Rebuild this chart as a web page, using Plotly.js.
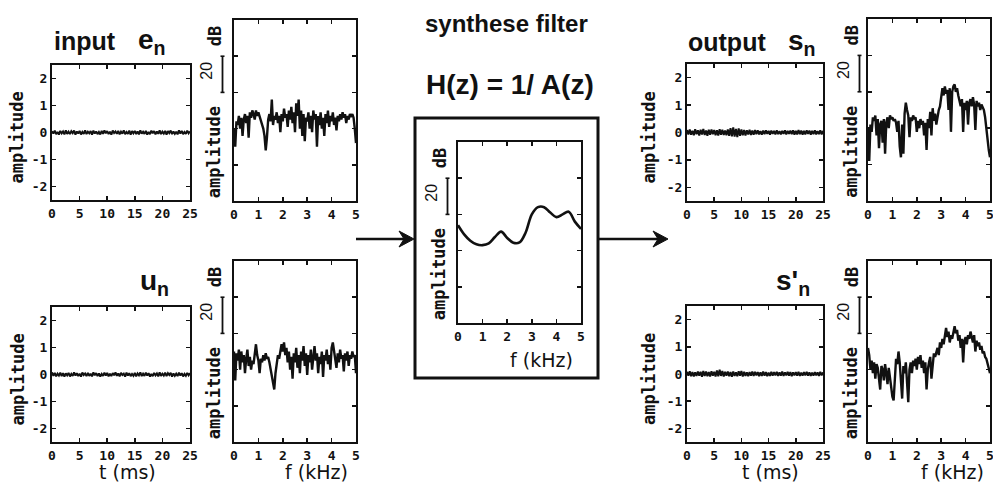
<!DOCTYPE html>
<html>
<head>
<meta charset="utf-8">
<script src="https://cdn.plot.ly/plotly-3.0.1.min.js"></script>
<style>
  html, body { margin: 0; padding: 0; background: #fff; }
  #chart { width: 993px; height: 490px; }
</style>
</head>
<body>
<div id="chart"></div>
<script>
// ---- time signals (amplitude, 0..25 ms) ----
const enTime = [0.05,-0.04,0.07,-0.06,0.02,-0.08,0.06,-0.03,0.04,-0.07,0.08,-0.05,0.03,-0.06,0.05,-0.02,0.07,-0.08,0.04,-0.04,0.06,-0.07,0.02,-0.05,0.08,-0.06,0.03,-0.03,0.05,-0.08,0.07,-0.04,0.04,-0.06,0.02,-0.07,0.06,-0.05,0.08,-0.03,0.05,-0.06,0.03,-0.08,0.07,-0.02,0.04,-0.05,0.06,-0.07,0.03,-0.04,0.08,-0.06,0.02,-0.05,0.07,-0.08,0.05,-0.03,0.06,-0.06,0.04,-0.07,0.08,-0.04,0.03,-0.05,0.06,-0.08,0.02,-0.06,0.07,-0.03,0.05,-0.07,0.04,-0.05,0.08,-0.06,0.03,-0.04,0.06,-0.08,0.05,-0.02,0.07,-0.06,0.04,-0.05,0.03,-0.07,0.08,-0.04,0.06,-0.06,0.02,-0.05,0.07,-0.03,0.04];
const unTime = [0.08,-0.05,0.06,-0.07,0.03,-0.04,0.07,-0.06,0.05,-0.08,0.04,-0.03,0.06,-0.07,0.02,-0.05,0.08,-0.04,0.05,-0.06,0.03,-0.08,0.07,-0.02,0.04,-0.06,0.06,-0.05,0.03,-0.07,0.08,-0.03,0.05,-0.06,0.04,-0.08,0.02,-0.05,0.07,-0.04,0.06,-0.07,0.03,-0.06,0.05,-0.03,0.08,-0.05,0.04,-0.07,0.06,-0.02,0.03,-0.08,0.07,-0.04,0.05,-0.06,0.02,-0.05,0.06,-0.07,0.04,-0.03,0.08,-0.06,0.03,-0.05,0.07,-0.04,0.05,-0.08,0.02,-0.06,0.06,-0.03,0.04,-0.07,0.08,-0.05,0.03,-0.04,0.07,-0.06,0.05,-0.02,0.06,-0.08,0.04,-0.05,0.03,-0.06,0.07,-0.04,0.05,-0.07,0.02,-0.05,0.06,-0.03,0.05];
const snTime = [0.09,-0.07,0.11,-0.08,0.06,-0.10,0.12,-0.06,0.08,-0.11,0.10,-0.07,0.13,-0.09,0.07,-0.12,0.10,-0.08,0.11,-0.06,0.09,-0.10,0.08,-0.11,0.12,-0.08,0.10,-0.09,0.07,-0.10,0.11,-0.12,0.16,-0.14,0.19,-0.15,0.13,-0.17,0.15,-0.12,0.11,-0.10,0.09,-0.11,0.08,-0.07,0.10,-0.09,0.07,-0.08,0.09,-0.06,0.08,-0.07,0.05,-0.08,0.07,-0.06,0.08,-0.05,0.06,-0.08,0.07,-0.05,0.06,-0.07,0.08,-0.06,0.05,-0.07,0.06,-0.05,0.08,-0.07,0.06,-0.05,0.07,-0.06,0.08,-0.08,0.06,-0.07,0.09,-0.06,0.07,-0.08,0.06,-0.07,0.08,-0.05,0.07,-0.08,0.06,-0.06,0.08,-0.07,0.05,-0.06,0.08,-0.07,0.06];
const spTime = [0.08,-0.06,0.10,-0.08,0.07,-0.09,0.06,-0.07,0.09,-0.06,0.08,-0.10,0.11,-0.07,0.09,-0.08,0.07,-0.09,0.10,-0.06,0.08,-0.09,0.13,-0.08,0.16,-0.07,0.11,-0.09,0.08,-0.06,0.09,-0.08,0.07,-0.10,0.09,-0.07,0.06,-0.08,0.10,-0.06,0.11,-0.09,0.08,-0.07,0.06,-0.08,0.07,-0.06,0.09,-0.07,0.08,-0.05,0.07,-0.08,0.06,-0.07,0.09,-0.06,0.07,-0.08,0.05,-0.07,0.08,-0.06,0.07,-0.05,0.08,-0.07,0.06,-0.06,0.09,-0.07,0.06,-0.05,0.08,-0.06,0.07,-0.08,0.06,-0.05,0.07,-0.06,0.08,-0.07,0.05,-0.06,0.07,-0.05,0.08,-0.06,0.06,-0.07,0.05,-0.06,0.07,-0.05,0.06,-0.07,0.08,-0.05,0.06];

// ---- magnitude spectra (dB, 0..5 kHz) ----
const enSpec = [40,30,44,42,47,40,46,36,45,48,43,47,35,49,46,50,48,45,50,47,49,47,45,43,40,36,28,35,45,48,44,56,42,47,45,49,43,47,38,48,44,51,46,48,41,50,45,52,43,49,38,54,47,56,40,50,36,48,33,46,44,49,40,47,38,50,45,48,30,47,42,49,40,46,36,48,43,50,41,47,44,49,42,46,39,47,44,48,45,49,46,48,43,47,45,48,47,48,46,40,32];
const unSpec = [50,34,49,45,51,40,50,44,48,38,46,51,42,47,40,45,43,50,54,48,45,38,46,44,48,45,49,46,47,44,40,37,33,29,38,45,48,46,51,54,50,55,48,52,44,50,40,47,35,49,44,52,41,48,38,50,45,53,42,49,37,48,44,51,40,47,53,45,49,38,47,43,50,36,48,45,51,43,48,40,52,55,50,47,41,49,44,51,46,48,39,49,45,50,42,48,46,50,47,48,38];
const snSpec = [40,22,42,38,46,44,47,36,45,29,42,44,32,45,26,43,46,40,47,45,46,44,45,43,38,44,30,24,42,26,48,54,50,47,35,46,44,47,45,46,38,44,40,45,42,44,36,43,28,45,40,49,36,51,44,48,42,47,50,52,56,62,58,63,59,61,50,62,38,60,63,64,60,62,58,55,52,56,38,54,50,55,42,54,56,52,57,53,39,55,52,54,50,53,51,50,46,40,32,28,24];
const spSpec = [52,48,40,45,38,44,35,43,41,36,29,42,40,34,43,38,32,41,35,30,25,23,38,46,43,50,44,30,24,42,38,44,30,22,40,44,38,45,42,46,40,47,43,48,41,45,38,44,29,40,44,47,35,45,49,47,50,52,48,55,52,57,54,60,63,58,61,55,59,57,61,64,60,62,56,59,52,57,44,56,58,54,59,57,61,58,55,59,50,56,53,55,51,53,49,50,47,46,43,40,38];

// synthesis filter 1/A(z), sampled every 0.25 kHz
const filtFreq = [0,0.25,0.5,0.75,1.0,1.25,1.5,1.75,2.0,2.25,2.5,2.75,3.0,3.25,3.5,3.75,4.0,4.25,4.5,4.75,5.0];
const filtDb   = [54,49,45.5,43.5,43,44,47.5,50.5,47,44.3,44.5,50,60,64,64,61,58.5,60,61.5,56,52];

const timeTicks = [0,5,10,15,20,25];
const ampTicks  = [-2,-1,0,1,2];
const freqTicks = [0,1,2,3,4,5];
const dbTicks   = [20,40,60,80];

// sample grids for the sampled series
const grid = (n, span) => Array.from({length: n}, (_, i) => i * span / (n - 1));

const W = 993, H = 490;
const px = x => x / W;
const py = y => 1 - y / H;
const xdom = (a, b) => [px(a), px(b)];
const ydom = (top, bottom) => [py(bottom), py(top)];

const INK = '#111';
const mono = {family: 'DejaVu Sans Mono, monospace', size: 13, color: INK, weight: 700};
const capFont = {family: 'DejaVu Sans Mono, monospace', size: 17, color: INK, weight: 700};

function axisBase() {
  return {
    ticks: 'inside', ticklen: 4, tickwidth: 1.5, tickcolor: INK,
    showline: true, linewidth: 2, linecolor: INK, mirror: 'ticks',
    showgrid: false, zeroline: false, fixedrange: true, ticklabeloverflow: 'allow'
  };
}
function timeAxes(xd, yd) {
  return [Object.assign(axisBase(), {
    domain: xd, range: [0, 25], tickvals: timeTicks, ticktext: timeTicks.map(String), tickfont: mono
  }), Object.assign(axisBase(), {
    domain: yd, range: [-2.5, 2.5], tickvals: ampTicks, ticktext: ampTicks.map(String), tickfont: mono
  })];
}
function specAxes(xd, yd) {
  return [Object.assign(axisBase(), {
    domain: xd, range: [0, 5], tickvals: freqTicks, ticktext: freqTicks.map(String), tickfont: mono
  }), Object.assign(axisBase(), {
    domain: yd, range: [0, 100], tickvals: dbTicks, showticklabels: false
  })];
}

// panel placement (pixels): [x0, x1, yTop, yBottom]; cap = offset of the vertical caption
const panels = [
  {kind: 't', box: [52, 190, 65, 200],  y: enTime, cap: 35},
  {kind: 'f', box: [234, 356, 20, 201], y: enSpec, cap: 20},
  {kind: 't', box: [52, 190, 307, 442], y: unTime, cap: 35},
  {kind: 'f', box: [234, 356, 261, 442], y: unSpec, cap: 20},
  {kind: 'h', box: [458, 581, 142, 323], y: filtDb, cap: 19},
  {kind: 't', box: [687, 823, 64, 201],  y: snTime, cap: 38},
  {kind: 'f', box: [868, 990, 19, 201],  y: snSpec, cap: 17},
  {kind: 't', box: [687, 823, 306, 442], y: spTime, cap: 38},
  {kind: 'f', box: [868, 990, 261, 442], y: spSpec, cap: 17}
];

const traces = [];
const layout = {
  width: W, height: H,
  margin: {l: 0, r: 0, t: 0, b: 0},
  paper_bgcolor: '#fff', plot_bgcolor: '#fff',
  showlegend: false,
  annotations: [], shapes: []
};

panels.forEach((p, i) => {
  const n = i + 1;
  const sfx = n === 1 ? '' : String(n);
  const [x0, x1, yt, yb] = p.box;
  const axes = p.kind === 't' ? timeAxes(xdom(x0, x1), ydom(yt, yb))
                              : specAxes(xdom(x0, x1), ydom(yt, yb));
  axes[0].anchor = 'y' + sfx;
  axes[1].anchor = 'x' + sfx;
  layout['xaxis' + sfx] = axes[0];
  layout['yaxis' + sfx] = axes[1];
  let xs;
  if (p.kind === 't') xs = grid(p.y.length, 25);
  else if (p.kind === 'f') xs = grid(p.y.length, 5);
  else xs = filtFreq;
  traces.push({
    type: 'scatter', mode: 'lines', x: xs, y: p.y,
    xaxis: 'x' + sfx, yaxis: 'y' + sfx,
    line: p.kind === 'h' ? {color: INK, width: 2.6, shape: 'spline', smoothing: 1.0}
                         : {color: INK, width: p.kind === 't' ? 2.0 : 2.4},
    hoverinfo: 'skip'
  });

  const capX = x0 - p.cap;
  if (p.kind === 't') {
    layout.annotations.push({
      xref: 'paper', yref: 'paper', x: px(capX), y: py((yt + yb) / 2 + 5),
      xanchor: 'center', yanchor: 'middle',
      text: 'amplitude', textangle: -90, showarrow: false, font: capFont
    });
  } else {
    // "amplitude" caption with a 20 dB scale bar (60..80 dB on the panel's own axis)
    layout.annotations.push({
      xref: 'paper', yref: 'y' + sfx, x: px(capX), y: 27,
      xanchor: 'center', yanchor: 'middle',
      text: 'amplitude', textangle: -90, showarrow: false, font: capFont
    });
    layout.annotations.push({
      xref: 'paper', yref: 'y' + sfx, x: px(capX - 7), y: 72,
      xanchor: 'center', yanchor: 'middle',
      text: '20', textangle: -90, showarrow: false,
      font: {family: 'Liberation Sans, Arial, sans-serif', size: 16, color: INK}
    });
    layout.annotations.push({
      xref: 'paper', yref: 'y' + sfx, x: px(capX + 1), y: 91,
      xanchor: 'center', yanchor: 'middle',
      text: 'dB', textangle: -90, showarrow: false, font: capFont
    });
    const bx = capX + 8.5;
    layout.shapes.push({
      type: 'line', xref: 'paper', yref: 'y' + sfx, x0: px(bx), x1: px(bx), y0: 60, y1: 80,
      line: {color: INK, width: 1.8}
    });
    [60, 80].forEach(v => layout.shapes.push({
      type: 'line', xref: 'paper', yref: 'y' + sfx, x0: px(bx - 2), x1: px(bx + 2), y0: v, y1: v,
      line: {color: INK, width: 1.6}
    }));
  }
});

const bold = (size) => ({family: 'Liberation Sans, Arial, sans-serif', size: size, color: INK, weight: 700});
const plain = (size) => ({family: 'DejaVu Sans, sans-serif', size: size, color: INK});
function label(x, y, text, font, anchor) {
  layout.annotations.push({xref: 'paper', yref: 'paper', x: px(x), y: py(y), text: text,
    showarrow: false, font: font, xanchor: anchor || 'center', yanchor: 'middle'});
}

label(52, 41, 'input', bold(25), 'left');
label(136, 41, 'e<sub>n</sub>', bold(28), 'left');
label(138, 282, 'u<sub>n</sub>', bold(28), 'left');
label(507, 23, 'synthese filter', bold(24));
label(510, 84, 'H(z) = 1/ A(z)', bold(28));
label(686, 42, 'output', bold(25), 'left');
label(786, 42, 's<sub>n</sub>', bold(28), 'left');
label(774, 282, "s'<sub>n</sub>", bold(28), 'left');
label(127, 472, 't (ms)', plain(19));
label(316, 472, 'f (kHz)', plain(19));
label(541, 360, 'f (kHz)', plain(19));
label(770, 472, 't (ms)', plain(19));
label(952, 472, 'f (kHz)', plain(19));

// frame around the filter block
layout.shapes.push({
  type: 'rect', xref: 'paper', yref: 'paper',
  x0: px(415), x1: px(598), y0: py(378), y1: py(118),
  line: {color: INK, width: 3}
});

// signal flow arrows: shaft plus a filled barbed head
function arrow(xa, xb, y) {
  layout.shapes.push({
    type: 'line', xref: 'paper', yref: 'paper', x0: px(xa), x1: px(xb - 6), y0: py(y), y1: py(y),
    line: {color: INK, width: 2.6}
  });
  const head = `M ${px(xb - 15)} ${py(y - 8)} L ${px(xb)} ${py(y)} L ${px(xb - 15)} ${py(y + 8)} L ${px(xb - 10)} ${py(y)} Z`;
  layout.shapes.push({
    type: 'path', xref: 'paper', yref: 'paper', path: head,
    fillcolor: INK, line: {color: INK, width: 1}
  });
}
arrow(356, 414, 239);
arrow(599, 668, 239);

Plotly.newPlot('chart', traces, layout, {displayModeBar: false, staticPlot: true});
</script>
</body>
</html>
